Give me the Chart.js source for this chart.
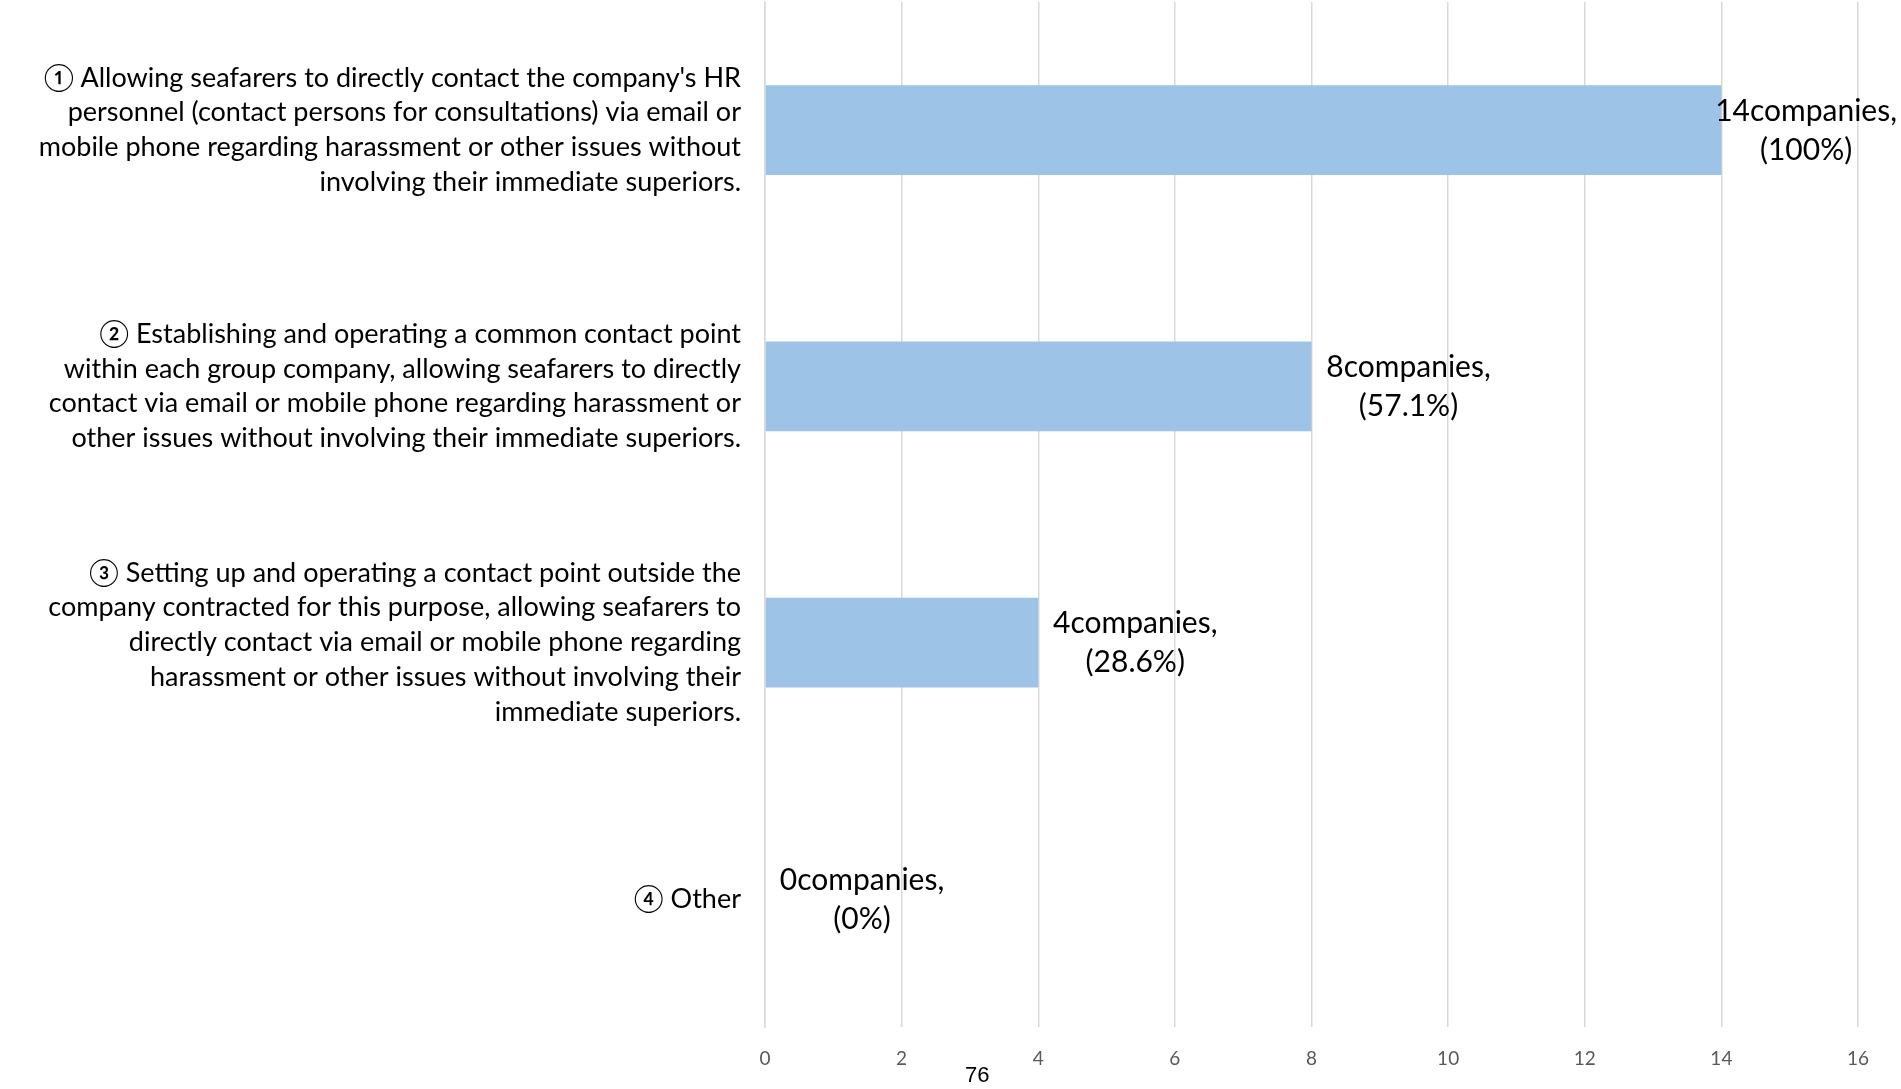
<!DOCTYPE html>
<html>
<head>
  <meta charset="utf-8">
  <title>Contact points</title>
  <style>
    body { margin: 0; background: #fff; overflow: hidden; }
    #wrap { position: relative; width: 1901px; height: 1089px; }
    #pageNo { position: absolute; left: 965px; top: 1062px; font: 22px "Liberation Sans", Arial, sans-serif; color: #000; }
  </style>
</head>
<body>
  <div id="wrap">
    <canvas id="grafico" width="1901" height="1089"></canvas>
    <div id="pageNo">76</div>
  </div>

  <script src="https://cdn.jsdelivr.net/npm/chart.js"></script>
  <script>
    // categorias (cada uma em linhas, como no original)
    const categorias = [
      ["① Allowing seafarers to directly contact the company's HR",
       "personnel (contact persons for consultations) via email or",
       "mobile phone regarding harassment or other issues without",
       "involving their immediate superiors."],
      ["② Establishing and operating a common contact point",
       "within each group company, allowing seafarers to directly",
       "contact via email or mobile phone regarding harassment or",
       "other issues without involving their immediate superiors."],
      ["③ Setting up and operating a contact point outside the",
       "company contracted for this purpose, allowing seafarers to",
       "directly contact via email or mobile phone regarding",
       "harassment or other issues without involving their",
       "immediate superiors."],
      ["④ Other"]
    ];
    const empresas = [14, 8, 4, 0];
    const porcentagens = ["100%", "57.1%", "28.6%", "0%"];
    const ticksX = [0, 2, 4, 6, 8, 10, 12, 14, 16];

    // Lato nao tem os numeros circulados, cai para a fonte CJK
    const fonte = 'Lato, "Noto Sans CJK JP", sans-serif';

    // rotulos de dados ao lado das barras
    const rotulos = {
      id: 'rotulos',
      afterDatasetsDraw(chart) {
        const ctx = chart.ctx;
        const meta = chart.getDatasetMeta(0);
        ctx.save();
        ctx.font = '30px ' + fonte;
        ctx.fillStyle = '#000';
        ctx.textAlign = 'center';
        ctx.textBaseline = 'middle';
        meta.data.forEach((bar, i) => {
          const l1 = empresas[i] + 'companies,';
          const l2 = '(' + porcentagens[i] + ')';
          const w = ctx.measureText(l1).width;
          let x = bar.x + 97;
          if (x + w / 2 > chart.width - 4) x = chart.width - 4 - w / 2;
          ctx.fillText(l1, x, bar.y - 19);
          ctx.fillText(l2, x, bar.y + 20);
        });
        ctx.restore();
      }
    };

    new Chart(document.getElementById('grafico'), {
      type: 'bar',
      data: {
        labels: categorias,
        datasets: [{
          data: empresas,
          backgroundColor: '#9DC3E6',
          barPercentage: 0.7,
          categoryPercentage: 0.5
        }]
      },
      options: {
        indexAxis: 'y',
        responsive: false,
        animation: false,
        devicePixelRatio: 1,
        layout: { padding: { top: 2, right: 43, bottom: 0, left: 0 } },
        plugins: { legend: { display: false }, tooltip: { enabled: false } },
        scales: {
          x: {
            min: 0,
            max: 16,
            afterBuildTicks: (scale) => { scale.ticks = ticksX.map(v => ({ value: v })); },
            afterFit: (scale) => { scale.height = 62; },
            border: { display: false },
            grid: { color: '#D9D9D9', lineWidth: 1.5, drawTicks: false },
            ticks: { padding: 20, color: '#595959', font: { family: fonte, size: 19 } }
          },
          y: {
            afterFit: (scale) => {
              scale.width = 765;
              scale.paddingTop = 0;
              scale.paddingBottom = 0;
            },
            border: { color: '#D9D9D9', width: 1.5 },
            grid: { display: false, drawTicks: false },
            ticks: { padding: 24, color: '#000', font: { family: fonte, size: 27, lineHeight: 1.29 } }
          }
        }
      },
      plugins: [rotulos]
    });
  </script>
</body>
</html>
